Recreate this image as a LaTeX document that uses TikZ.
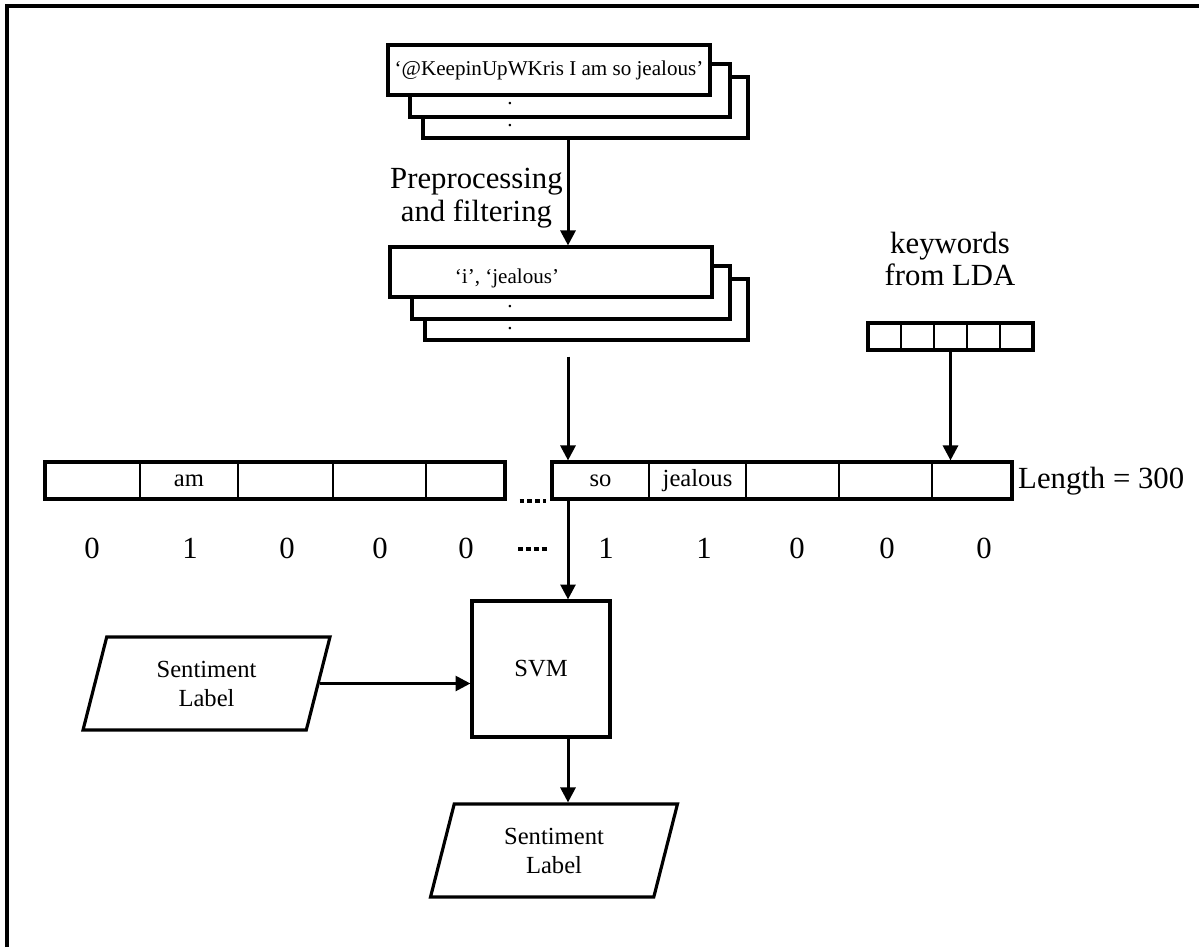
\documentclass[tikz,border=0pt]{standalone}
\usepackage{fontspec}
\setmainfont{Liberation Serif}
\usetikzlibrary{arrows.meta,shapes.geometric}

\begin{document}
\begin{tikzpicture}[x=0.02cm, y=-0.02cm]
	\tikzset{box/.style={draw, line width=1.8pt, fill=white, inner sep=0pt},
		cell/.style={draw, line width=0.9pt, inner sep=0pt, minimum height=0.74cm},
		frame/.style={draw, line width=1.8pt, inner sep=0pt},
		arr/.style={-{Triangle[length=8.5pt, width=8.5pt]}, line width=1.7pt},
		big/.style={font=\fontsize{17.5}{18.5}\selectfont, align=center},
		mid/.style={font=\fontsize{14}{16.5}\selectfont, align=center},
		sml/.style={font=\fontsize{12}{14}\selectfont},
		io/.style={trapezium, trapezium left angle=62.5, trapezium right angle=117.5, trapezium stretches body, draw, line width=1.8pt, minimum width=4.94cm, minimum height=1.86cm, inner sep=0pt, mid},
		dots/.style={line width=2.3pt, dash pattern=on 2.8pt off 1.7pt}};

	\useasboundingbox (0,0) rectangle (1199,947);
	\draw[line width=1.9pt] (7,947) -- (7,6) -- (1199,6);

	% tweets
	\node[box, minimum width=6.5cm, minimum height=1.22cm] (tw3) at (585.5,107.5) {};
	\node[box, minimum width=6.4cm, minimum height=1.06cm] (tw2) at (570,90.5) {};
	\node[box, minimum width=6.44cm, minimum height=1cm, sml] (tw1) at (549,70) {‘@KeepinUpWKris I am so jealous’};
	\node[sml] (twd1) at (510,104) {.};
	\node[sml] (twd2) at (510,126) {.};

	% filtered words
	\node[box, minimum width=6.46cm, minimum height=1.22cm] (fl3) at (586.5,309.5) {};
	\node[box, minimum width=6.36cm, minimum height=1.06cm] (fl2) at (571,292.5) {};
	\node[box, minimum width=6.44cm, minimum height=1cm] (fl1) at (551,272) {};
	\node[sml] (fltxt) at (507,278) {‘i’, ‘jealous’};
	\node[sml] (fld1) at (510,307) {.};
	\node[sml] (fld2) at (510,329) {.};

	\coordinate (colx) at (568,0);
	\node[big, anchor=east, inner sep=0pt] (prep) at (563,198) {Preprocessing\\and filtering};

	% keywords
	\node[big] (kwlbl) at (950,259) {keywords\\from LDA};
	\node[cell, minimum width=0.66cm, minimum height=0.54cm] (kw1) at (884.5,336.5) {};
	\node[cell, minimum width=0.66cm, minimum height=0.54cm] (kw2) at (917.5,336.5) {};
	\node[cell, minimum width=0.66cm, minimum height=0.54cm] (kw3) at (950.5,336.5) {};
	\node[cell, minimum width=0.66cm, minimum height=0.54cm] (kw4) at (983.5,336.5) {};
	\node[cell, minimum width=0.66cm, minimum height=0.54cm] (kw5) at (1016.5,336.5) {};
	\node[frame, minimum width=3.3cm, minimum height=0.54cm] (kw) at (950.5,336.5) {};

	% vector, left part
	\node[cell, minimum width=1.9cm] (l1) at (92.5,480.5) {};
	\node[cell, minimum width=1.96cm, mid] (l2) at (189,480.5) {am};
	\node[cell, minimum width=1.9cm] (l3) at (285.5,480.5) {};
	\node[cell, minimum width=1.86cm] (l4) at (379.5,480.5) {};
	\node[cell, minimum width=1.58cm] (l5) at (465.5,480.5) {};
	\node[frame, minimum width=9.2cm, minimum height=0.74cm] (lvec) at (275,480.5) {};

	% vector, right part
	\node[cell, minimum width=1.94cm, mid] (r1) at (600.5,480.5) {so};
	\node[cell, minimum width=1.94cm, mid] (r2) at (697.5,480.5) {jealous};
	\node[cell, minimum width=1.86cm] (r3) at (792.5,480.5) {};
	\node[cell, minimum width=1.86cm] (r4) at (885.5,480.5) {};
	\node[cell, minimum width=1.6cm] (r5) at (972,480.5) {};
	\node[frame, minimum width=9.2cm, minimum height=0.74cm] (rvec) at (782,480.5) {};

	\node[big, anchor=west] (len) at (1012,481) {Length = 300};

	% values
	\node[big] (d1) at (92,548) {0};
	\node[big] (d2) at (190,548) {1};
	\node[big] (d3) at (287,548) {0};
	\node[big] (d4) at (380,548) {0};
	\node[big] (d5) at (466,548) {0};
	\node[big] (d6) at (606,548) {1};
	\node[big] (d7) at (704,548) {1};
	\node[big] (d8) at (797,548) {0};
	\node[big] (d9) at (887,548) {0};
	\node[big] (d10) at (984,548) {0};

	\draw[dots, shorten <=13*0.02cm, shorten >=4*0.02cm] (lvec.south east) to (rvec.south west);
	\draw[dots] (518,549) to (548,549);

	% classifier
	\node[box, minimum width=2.76cm, minimum height=2.72cm, mid] (svm) at (541,669) {SVM};
	\node[io] (sl1) at (206.5,683.5) {Sentiment\\Label};
	\node[io] (sl2) at (554,850.5) {Sentiment\\Label};

	\draw[arr] (tw3.south -| colx) to (fl1.north -| colx);
	\draw[arr, shorten <=15*0.02cm] (fl3.south -| colx) to (rvec.north -| colx);
	\draw[arr] (kw3.south) to (kw3.south |- rvec.north);
	\draw[arr] (rvec.south -| colx) to (svm.north -| colx);
	\draw[arr] (sl1.east) to (svm.west |- sl1.east);
	\draw[arr] (svm.south -| colx) to (sl2.north -| colx);

\end{tikzpicture}
\end{document}
